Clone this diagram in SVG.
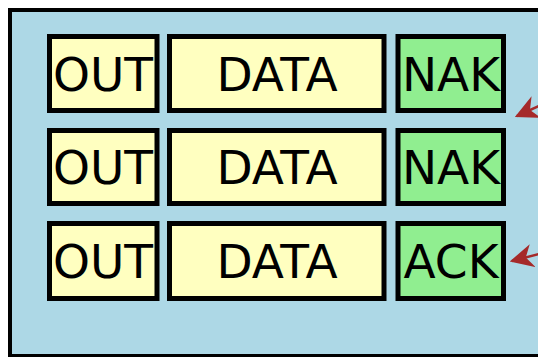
<svg xmlns="http://www.w3.org/2000/svg" width="538" height="357" viewBox="0 0 538 357">
<style>
.box{stroke:#000;stroke-width:5}
.y{fill:#ffffc0}
.g{fill:#90ee90}
.t{font-family:"DejaVu Sans",sans-serif;font-size:47px;fill:#000;text-anchor:middle}
.conn{stroke:#a52a2a;stroke-width:2.5;fill:none}
</style>
<defs>
<marker id="ah" viewBox="0 0 10 10" refX="9" refY="5" markerWidth="9.5" markerHeight="9.5" markerUnits="strokeWidth" orient="auto">
<path d="M0,0 L10,5 L0,10 L3,5 z" fill="#a52a2a"/>
</marker>
</defs>
<rect id="container" x="10" y="10" width="560" height="346" fill="#add8e6" stroke="#000" stroke-width="4"/>
<g id="out1"><rect class="box y" x="49.5" y="36.5" width="107.5" height="74"/><text class="t" x="103" y="91">OUT</text></g>
<g id="data1"><rect class="box y" x="169.5" y="36.5" width="214.5" height="74"/><text class="t" x="277" y="91">DATA</text></g>
<g id="nak1"><rect class="box g" x="398" y="36.5" width="105.5" height="74"/><text class="t" x="451" y="91">NAK</text></g>
<g id="out2"><rect class="box y" x="49.5" y="130.5" width="107.5" height="73"/><text class="t" x="103" y="184">OUT</text></g>
<g id="data2"><rect class="box y" x="169.5" y="130.5" width="214.5" height="73"/><text class="t" x="277" y="184">DATA</text></g>
<g id="nak2"><rect class="box g" x="398" y="130.5" width="105.5" height="73"/><text class="t" x="451" y="184">NAK</text></g>
<g id="out3"><rect class="box y" x="49.5" y="223.5" width="107.5" height="75"/><text class="t" x="103" y="278">OUT</text></g>
<g id="data3"><rect class="box y" x="169.5" y="223.5" width="214.5" height="75"/><text class="t" x="277" y="278">DATA</text></g>
<g id="ack3"><rect class="box g" x="398" y="223.5" width="105.5" height="75"/><text class="t" x="451" y="278">ACK</text></g>
<g id="connectors">
<path class="conn" d="M570,92 L517,116" marker-end="url(#ah)"/>
<path class="conn" d="M570,246 L512,261" marker-end="url(#ah)"/>
</g>
</svg>
